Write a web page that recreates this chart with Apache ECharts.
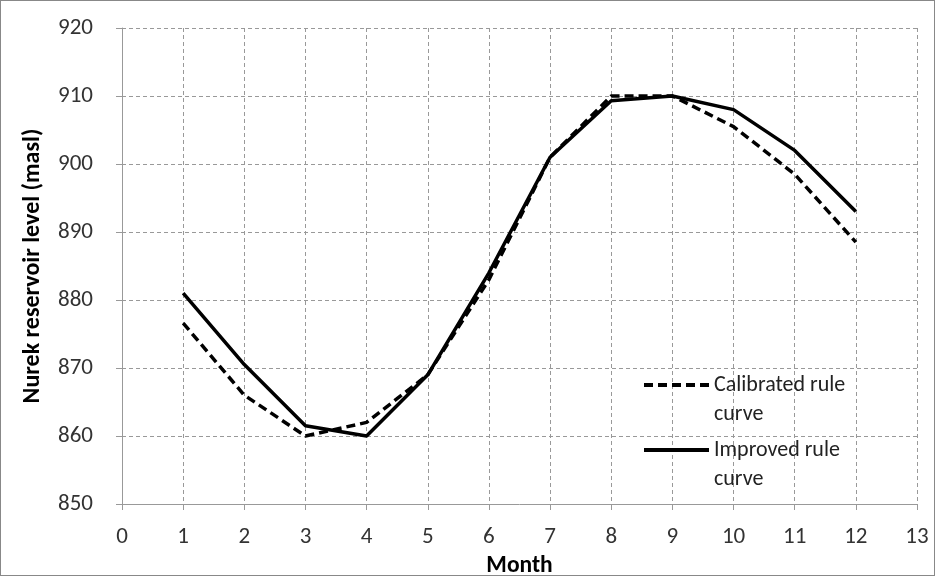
<!DOCTYPE html>
<html><head><meta charset="utf-8">
<script src="https://cdn.jsdelivr.net/npm/echarts@6/dist/echarts.min.js"></script>
<style>html,body{margin:0;padding:0;background:#fff}#c{width:935px;height:576px;box-sizing:border-box;border:1px solid #888}</style>
</head><body><div id="c"></div>
<script>
const months = [1,2,3,4,5,6,7,8,9,10,11,12];
const calibrated = [876.6, 866, 860, 862, 869, 883, 901, 910, 910, 905.5, 898.5, 888.5];
const improved = [881, 870.5, 861.5, 860, 869, 884, 901, 909.3, 910, 908, 902, 893];
const seriesNames = ['Calibrated rule\ncurve', 'Improved rule\ncurve'];
const FONT = 'Carlito, Lato, "Open Sans", sans-serif';
const legendText = {fontFamily: FONT, fontSize: 22, color: '#222', lineHeight: 29};
function legendAt(name, iconY) {
  return {orient: 'vertical', left: 641, top: iconY - 43.5, padding: 0, itemWidth: 65, itemHeight: 14,
    itemStyle: {opacity: 0}, lineStyle: {width: 4}, textStyle: legendText,
    formatter: n => '\n' + n, data: [name]};
}
const chart = echarts.init(document.getElementById('c'));
chart.setOption({
  animation: false,
  grid: {left: 121, right: 17, top: 27, bottom: 71, containLabel: false, outerBoundsMode: 'none'},
  legend: [legendAt(seriesNames[0], 384), legendAt(seriesNames[1], 449)],
  xAxis: {
    type: 'value', min: 0, max: 13, interval: 1,
    name: 'Month', nameLocation: 'middle', nameGap: 41,
    nameTextStyle: {fontFamily: FONT, fontSize: 23.5, fontWeight: 'bold', color: '#000'},
    axisLine: {show: true, lineStyle: {color: '#999'}},
    axisTick: {show: true, length: 6, lineStyle: {color: '#999'}},
    axisLabel: {fontFamily: FONT, fontSize: 23, color: '#333', margin: 22},
    splitLine: {show: true, lineStyle: {type: [4, 3], color: '#999'}}
  },
  yAxis: {
    type: 'value', min: 850, max: 920, interval: 10,
    name: 'Nurek reservoir level (masl)', nameLocation: 'middle', nameGap: 77, nameRotate: 90,
    nameTextStyle: {fontFamily: FONT, fontSize: 24, fontWeight: 'bold', color: '#000'},
    axisLine: {show: true, lineStyle: {color: '#999'}},
    axisTick: {show: true, length: 6, lineStyle: {color: '#999'}},
    axisLabel: {fontFamily: FONT, fontSize: 23, color: '#333', margin: 29},
    splitLine: {show: true, lineStyle: {type: [4, 3], color: '#999'}}
  },
  series: [
    {name: seriesNames[0], type: 'line', symbol: 'none', data: months.map((m,i)=>[m, calibrated[i]]),
     lineStyle: {color: '#000', width: 3.5, type: [9, 5]}, itemStyle: {color: '#000'}},
    {name: seriesNames[1], type: 'line', symbol: 'none', data: months.map((m,i)=>[m, improved[i]]),
     lineStyle: {color: '#000', width: 3.5}, itemStyle: {color: '#000'}}
  ]
});
</script></body></html>
